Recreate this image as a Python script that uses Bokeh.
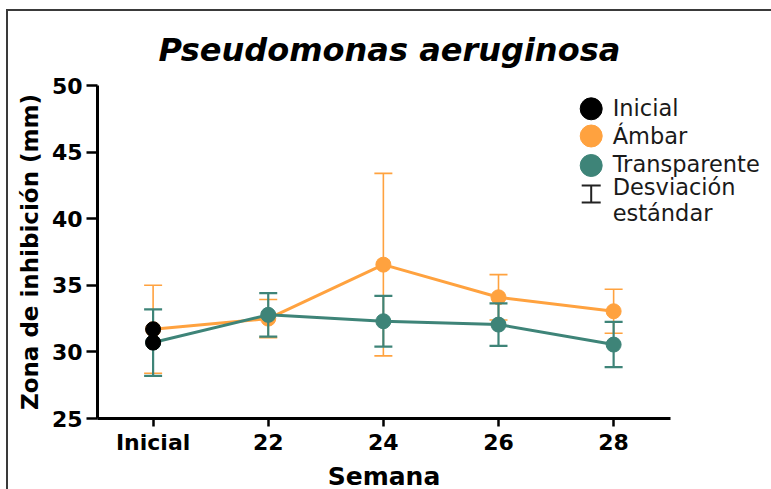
from bokeh.plotting import figure
from bokeh.models import Range1d, FixedTicker, ColumnDataSource, Legend, LegendItem, Title
from bokeh.embed import file_html
from bokeh.resources import INLINE

# ---------------- data ----------------
weeks = ["Inicial", "22", "24", "26", "28"]
ambar_mean = [31.7, 32.5, 36.55, 34.1, 33.05]
ambar_sd = [3.3, 1.43, 6.85, 1.7, 1.65]
transp_mean = [30.7, 32.78, 32.3, 32.05, 30.55]
transp_sd = [2.5, 1.63, 1.9, 1.6, 1.7]
inicial_week = ["Inicial", "Inicial"]
inicial_vals = [31.7, 30.7]
y_ticks = [25, 30, 35, 40, 45, 50]
legend_names = ["Inicial", "Ámbar", "Transparente"]
sd_label = ["Desviación", "estándar"]
title_text = "Pseudomonas aeruginosa"
x_title = "Semana"
y_title = "Zona de inhibición (mm)"

ORANGE = "#FFA23F"
GREEN = "#3E8478"
BLACK = "#000000"
FONT = "DejaVu Sans"

# ---------------- layout ----------------
CX, CY = 8, 11                      # canvas origin on page
CW, CH = 763, 478                   # canvas size
FL, FT, FH = 97, 85, 333            # frame left/top (page px), height
FW = CX + CW - FL                   # frame reaches the right edge (room for the legend)
PX_PER_UNIT = 115.13                # x scale of the axis
X0 = -0.483
X_AXIS_END = 4.494                  # where the drawn x axis stops
X1 = X0 + FW / PX_PER_UNIT
Y0, Y1 = 25, 50


def xd(px):
    return X0 + (px - FL) / PX_PER_UNIT


def yd(py):
    return Y1 - (py - FT) / FH * (Y1 - Y0)


pos = {w: i for i, w in enumerate(weeks)}
xs = [pos[w] for w in weeks]

p = figure(
    frame_width=FW, frame_height=FH,
    min_border_left=FL - CX, min_border_right=0,
    min_border_top=FT - CY, min_border_bottom=CH - (FT - CY) - FH,
    x_range=Range1d(X0, X1), y_range=Range1d(Y0, Y1),
    output_backend="svg", toolbar_location=None,
    background_fill_color="white", border_fill_color="white",
)
p.styles = {"margin-top": "9px", "margin-left": "6px",
            "border-top": "2px solid #3a3a3a", "border-left": "2px solid #3a3a3a"}
p.outline_line_color = None
p.grid.visible = False

# title
p.title.text = title_text
p.title.align = "left"
p.title.text_font = FONT
p.title.text_font_style = "bold italic"
p.title.text_font_size = "32px"
p.title.text_color = "black"
p.title.offset = 61
p.title.standoff = 33

# axes
p.xaxis.ticker = FixedTicker(ticks=xs)
p.xaxis.bounds = (X0, X_AXIS_END)
p.xaxis.major_label_overrides = {i: w for i, w in enumerate(weeks)}
p.yaxis.ticker = FixedTicker(ticks=y_ticks)
for ax in (p.xaxis, p.yaxis):
    ax.axis_line_color = "black"
    ax.axis_line_width = 3
    ax.major_tick_line_color = "black"
    ax.major_tick_line_width = 2.5
    ax.minor_tick_line_color = None
    ax.major_tick_in = 0
    ax.major_label_text_font = FONT
    ax.major_label_text_font_style = "bold"
    ax.major_label_text_font_size = "22px"
    ax.major_label_text_color = "black"
    ax.axis_label_text_font = FONT
    ax.axis_label_text_font_style = "bold"
    ax.axis_label_text_color = "black"
p.xaxis.major_tick_out = 8
p.xaxis.major_label_standoff = 3
p.yaxis.major_tick_out = 11
p.yaxis.major_label_standoff = 4
p.yaxis.axis_label = y_title
p.yaxis.axis_label_text_font_size = "23px"
p.yaxis.axis_label_standoff = 6

# x-axis title: centred under the drawn axis (not under the wider frame)
sem_w = 4.502 * 25
p.add_layout(Title(text=x_title, align="left", offset=(X_AXIS_END - X0) * PX_PER_UNIT / 2 - sem_w / 2,
                   text_font=FONT, text_font_style="bold", text_font_size="25px",
                   text_color="black", standoff=4), "below")


def series(mean, sd, color, lw_err):
    src = ColumnDataSource(dict(
        x=xs, y=mean,
        lo=[m - s for m, s in zip(mean, sd)],
        hi=[m + s for m, s in zip(mean, sd)],
    ))
    p.segment(x0="x", y0="lo", x1="x", y1="hi", source=src, line_color=color, line_width=lw_err)
    p.scatter(x="x", y="hi", source=src, marker="dash", size=18, line_color=color, line_width=lw_err)
    p.scatter(x="x", y="lo", source=src, marker="dash", size=18, line_color=color, line_width=lw_err)
    p.line(x="x", y="y", source=src, line_color=color, line_width=3)
    p.scatter(x="x", y="y", source=src, size=15, fill_color=color, line_color=color)


series(ambar_mean, ambar_sd, ORANGE, 1.6)
series(transp_mean, transp_sd, GREEN, 2.2)
p.scatter(x=[pos[w] for w in inicial_week], y=inicial_vals, size=15, fill_color=BLACK, line_color=BLACK)

# legend swatches (large circles + error-bar symbol)
sw_x = xd(590.7)
sw_y = [yd(108.3), yd(135.5), yd(165)]
p.scatter(x=[sw_x] * 3, y=sw_y, size=22, fill_color=[BLACK, ORANGE, GREEN],
          line_color=[BLACK, ORANGE, GREEN])
eb_top, eb_bot = yd(185), yd(202)
p.segment(x0=[sw_x], y0=[eb_top], x1=[sw_x], y1=[eb_bot], line_color="#222222", line_width=2)
p.scatter(x=[sw_x, sw_x], y=[eb_top, eb_bot], marker="dash", size=19, line_color="#222222", line_width=2)

# legend texts
dummy = p.scatter(x=[], y=[], fill_alpha=0, line_alpha=0)


def text_legend(labels, row_h, top_page):
    lg = Legend(items=[LegendItem(label=t, renderers=[dummy]) for t in labels])
    n = len(labels)
    lg.glyph_width = 22
    lg.glyph_height = row_h
    lg.label_height = row_h
    lg.spacing = 0
    lg.padding = 0
    lg.margin = 0
    lg.label_standoff = 11
    lg.border_line_color = None
    lg.background_fill_alpha = 0
    lg.label_text_font = FONT
    lg.label_text_font_size = "22.5px"
    lg.label_text_color = "#1a1a1a"
    bottom_page = top_page + n * row_h
    lg.location = (590.7 - 11 - FL, FT + FH - bottom_page)
    p.add_layout(lg, "center")


text_legend(legend_names, 28, 93.5)
text_legend(sd_label, 26, 174)

open("out.html", "w").write(file_html(p, INLINE))
